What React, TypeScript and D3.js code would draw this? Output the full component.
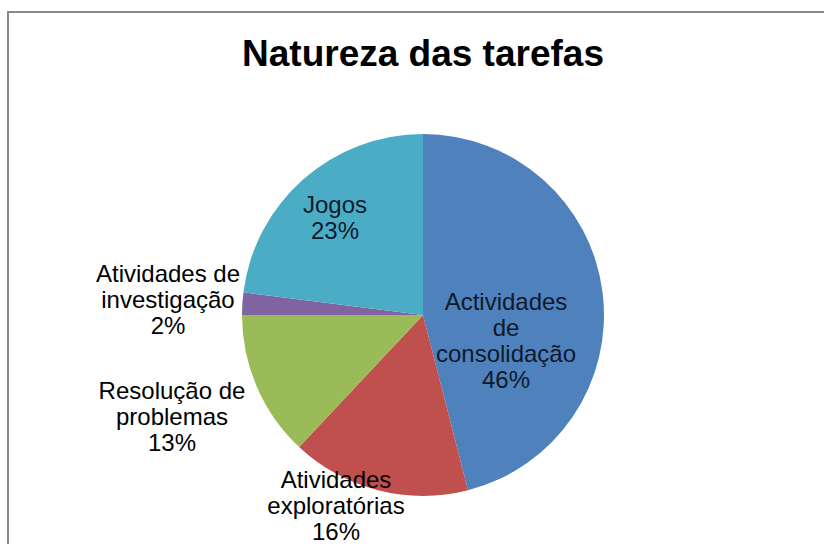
import React from "react";
import * as d3 from "d3";

const categories = [
  "Actividades de consolidação",
  "Atividades exploratórias",
  "Resolução de problemas",
  "Atividades de investigação",
  "Jogos",
];
const values = [46, 16, 13, 2, 23];
const colors = ["#4F81BD", "#C0504D", "#9BBB59", "#8064A2", "#4BACC6"];
const labelLines = [
  ["Actividades", "de", "consolidação"],
  ["Atividades", "exploratórias"],
  ["Resolução de", "problemas"],
  ["Atividades de", "investigação"],
  ["Jogos"],
];

// layout (not data)
const W = 824;
const H = 544;
const cx = 423;
const cy = 315;
const R = 181;
const labelPos: [number, number][] = [
  [506, 310],
  [336, 488],
  [172, 399],
  [168, 282],
  [335, 213],
];
const lineH = 26;

export default function App() {
  const pie = d3
    .pie<number>()
    .sort(null)
    .value((d) => d);
  const arcs = pie(values);
  const arc = d3
    .arc<d3.PieArcDatum<number>>()
    .innerRadius(0)
    .outerRadius(R);
  const total = d3.sum(values);
  const fmt = (v: number) => `${Math.round((v / total) * 100)}%`;

  return (
    <svg
      width={W}
      height={H}
      style={{ position: "absolute", left: 0, top: 0, background: "#fff" }}
      fontFamily="'Liberation Sans', Arial, sans-serif"
    >
      <rect x={0} y={0} width={W} height={H} fill="#fff" />
      <rect
        x={8}
        y={12}
        width={W + 20}
        height={H + 20}
        fill="#fff"
        stroke="#8a8a8a"
        strokeWidth={2}
      />
      <text
        x={423}
        y={66}
        textAnchor="middle"
        fontSize={37}
        fontWeight="bold"
        fill="#000"
      >
        Natureza das tarefas
      </text>
      <g transform={`translate(${cx},${cy})`}>
        {arcs.map((a, i) => (
          <path key={categories[i]} d={arc(a) || ""} fill={colors[i]} />
        ))}
      </g>
      {arcs.map((a, i) => {
        const lines = [...labelLines[i], fmt(a.value)];
        const [lx, ly] = labelPos[i];
        return (
          <text
            key={"l" + i}
            x={lx}
            y={ly}
            textAnchor="middle"
            fontSize={24}
            fill={i === 0 || i === 4 ? "#0e1a2b" : "#000"}
          >
            {lines.map((t, j) => (
              <tspan key={j} x={lx} y={ly + j * lineH}>
                {t}
              </tspan>
            ))}
          </text>
        );
      })}
    </svg>
  );
}
